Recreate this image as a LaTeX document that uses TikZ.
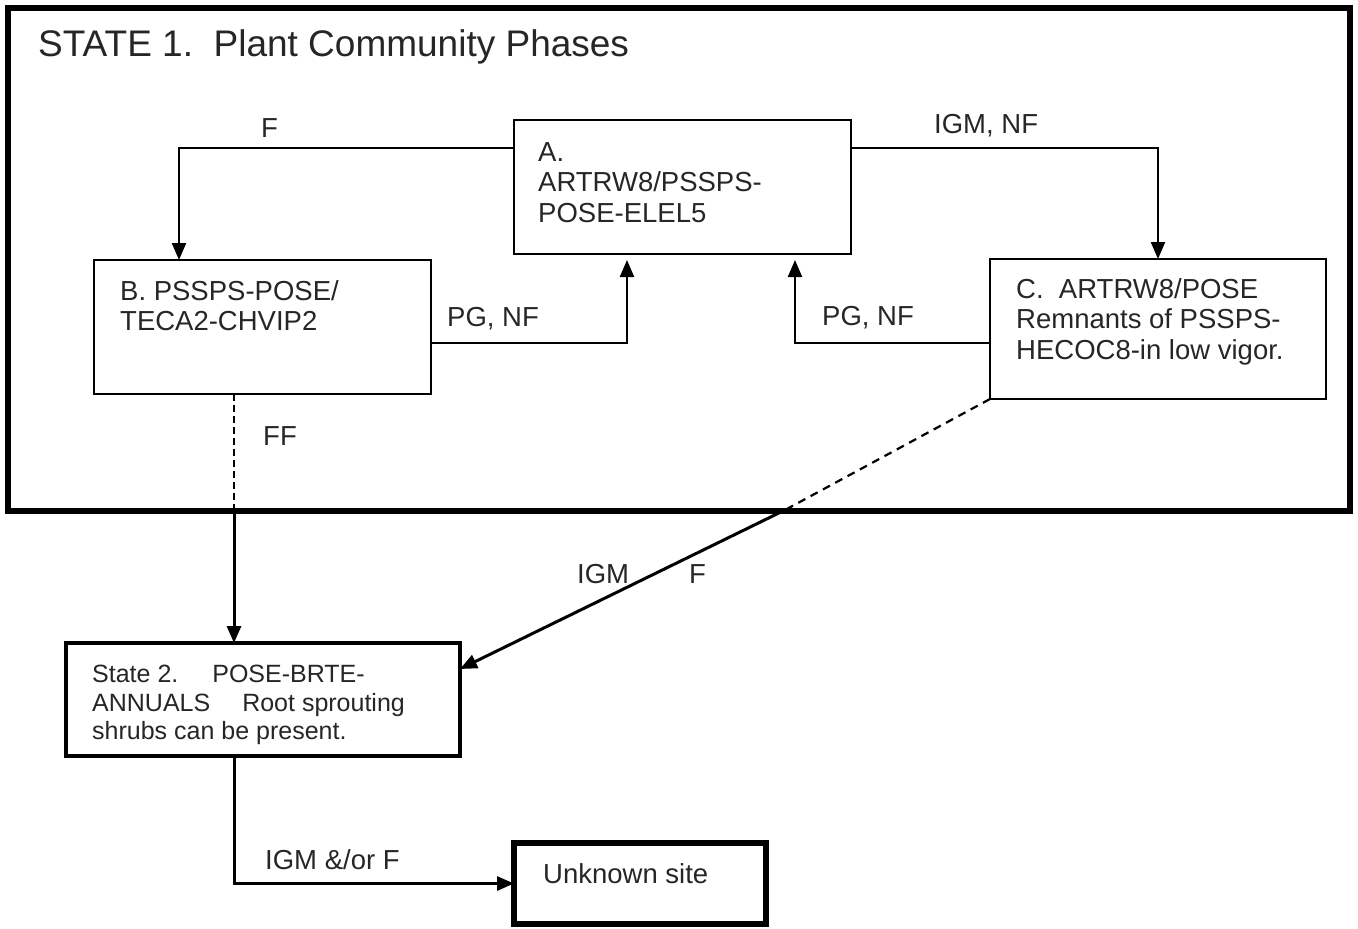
\documentclass[tikz,border=0pt]{standalone}
\usepackage{fontspec}
\setmainfont{Liberation Sans}
\usetikzlibrary{arrows.meta,positioning,calc}

\begin{document}
\begin{tikzpicture}[x=1pt,y=-1pt,>={Triangle[width=14pt,length=17pt]},
  font=\fontsize{27.5}{30.5}\selectfont,text=black!85]
\tikzstyle{phase}=[draw,line width=2.2pt,anchor=north west,inner sep=0pt,outer sep=0pt]
\tikzstyle{boxtext}=[anchor=north west,align=left,inner sep=0pt]
\tikzstyle{lbl}=[anchor=west,inner sep=0pt]
\tikzstyle{flow}=[line width=2.2pt]
\tikzstyle{flowout}=[line width=3pt]
\useasboundingbox (0,0) rectangle (1358,929);
% state 1 frame
\node[phase,line width=6pt,minimum width=1342pt,minimum height=503pt] (S1) at (8,8) {};
\node[lbl,font=\fontsize{37}{40}\selectfont] (title) at (38,47) {STATE 1.\ \ Plant Community Phases};
% community phases
\node[phase,minimum width=337pt,minimum height=134pt] (A) at (514,120) {};
\node[phase,minimum width=337pt,minimum height=134pt] (B) at (94,260) {};
\node[phase,minimum width=336pt,minimum height=140pt] (C) at (990,259) {};
\node[boxtext] (Atxt) at ([shift={(24pt,-22pt)}]A.north west) {A.\\ARTRW8/PSSPS-\\POSE-ELEL5};
\node[boxtext] (Btxt) at ([shift={(26pt,-20pt)}]B.north west) {B. PSSPS-POSE/\\TECA2-CHVIP2};
\node[boxtext] (Ctxt) at ([shift={(26pt,-19pt)}]C.north west) {C.\ \ ARTRW8/POSE\\Remnants of PSSPS-\\HECOC8-in low vigor.};
% state 2 and unknown site
\node[phase,line width=4pt,minimum width=394pt,minimum height=113pt] (S2) at (66,643) {};
\node[boxtext,font=\fontsize{25}{28.5}\selectfont] (S2txt) at ([shift={(26pt,-22pt)}]S2.north west)
  {State 2.\hspace{34pt}POSE-BRTE-\\ANNUALS\hspace{32pt}Root sprouting\\shrubs can be present.};
\node[phase,line width=6pt,minimum width=252pt,minimum height=81pt] (U) at (514,843) {};
\node[boxtext] (Utxt) at ([shift={(29pt,-20pt)}]U.north west) {Unknown site};
% transitions within state 1
\draw[flow,->] ([yshift=-28pt]A.north west) -| ([xshift=85pt]B.north west);
\draw[flow,->] ([yshift=-28pt]A.north east) -| (C.north);
\draw[flow,->,shorten >=6pt] ([yshift=51pt]B.south east) -| ([xshift=113pt]A.south west);
\draw[flow,->,shorten >=6pt] ([yshift=56pt]C.south west) -| ([xshift=281pt]A.south west);
\node[lbl] (lF) at (261,128) {F};
\node[lbl] (lIN) at (934,126) {IGM, NF};
\node[lbl] (lPG1) at (447,319) {PG, NF};
\node[lbl] (lPG2) at (822,318) {PG, NF};
% transitions out of state 1
\coordinate (ff) at (234,511);
\coordinate (cd) at (785,510);
\draw[line width=1.5pt,dash pattern=on 7pt off 4pt] (B.south -| ff) -- (ff);
\draw[flowout,->] (ff) -- (ff |- S2.north);
\draw[line width=2.2pt,dash pattern=on 8pt off 6pt] (C.south west) -- (cd);
\draw[flowout,->] (cd) -- ([yshift=-26pt]S2.north east);
\node[lbl] (lFF) at (263,436) {FF};
\node[lbl] (lIGM) at (577,574) {IGM};
\node[lbl] (lF2) at (689,574) {F};
% state 2 to unknown site
\draw[flowout,->] (S2.south -| ff) |- (U.west);
\node[lbl] (lIF) at (265,860) {IGM \&/or F};
\end{tikzpicture}
\end{document}
